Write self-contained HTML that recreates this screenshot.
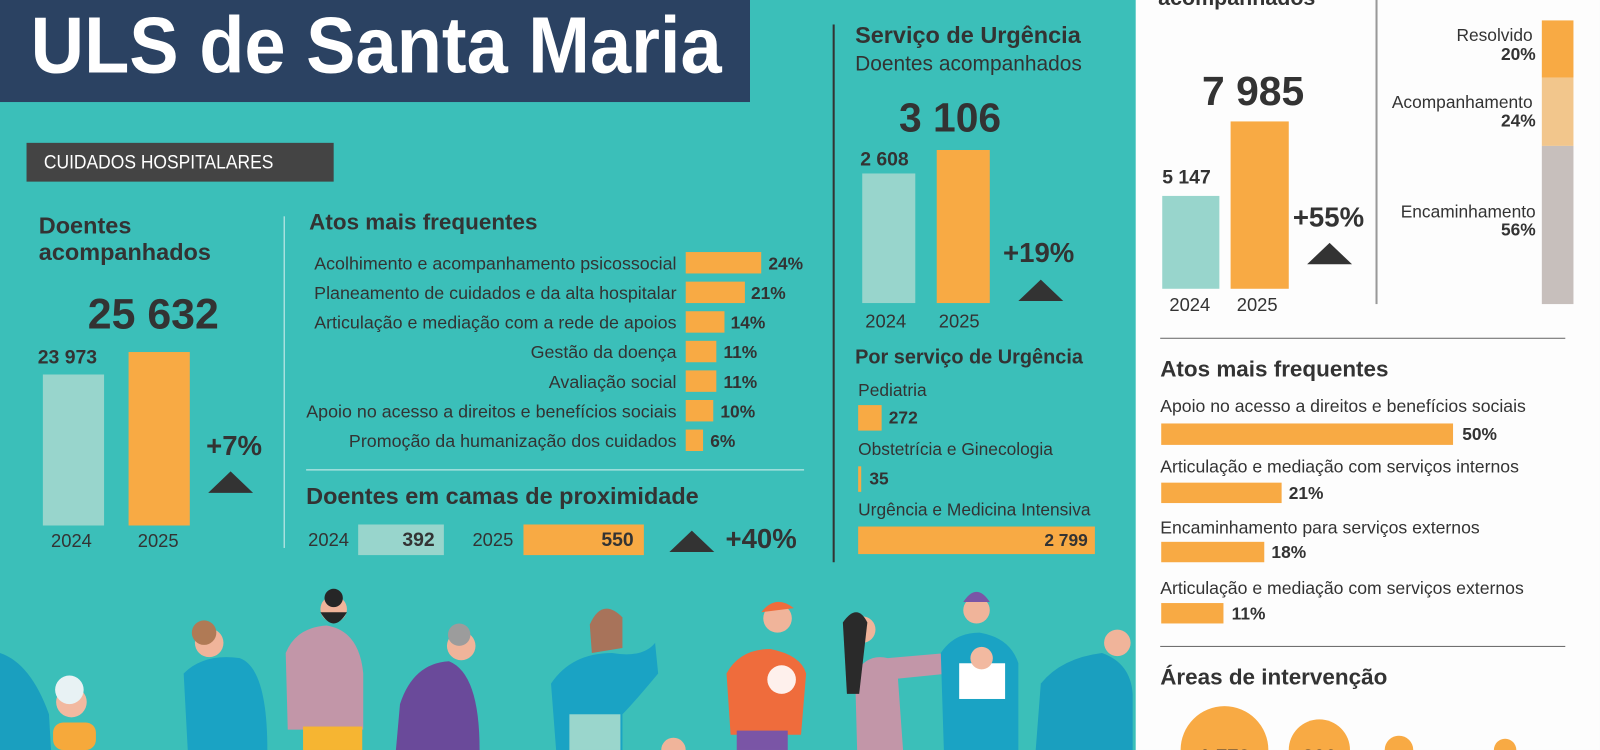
<!DOCTYPE html>
<html><head><meta charset="utf-8">
<style>
*{margin:0;padding:0;box-sizing:border-box}
html,body{width:1600px;height:750px;overflow:hidden;background:#3bbfb9}
#w{position:absolute;left:0;top:0;width:1568px;height:735px;overflow:hidden;transform:scale(1.0204);transform-origin:0 0;font-family:"Liberation Sans",sans-serif;color:#333}
.a{position:absolute;white-space:nowrap;line-height:1}
.b{font-weight:bold}
.r{text-align:right}
.or{background:#f8aa44}
.lt{background:#98d5cc}
.tri{position:absolute;width:0;height:0;border-left:22px solid transparent;border-right:22px solid transparent;border-bottom:21px solid #333}
</style></head><body><div id="w">
<div class="a" style="left:1113px;top:0;width:455px;height:735px;background:#fdfdfd"></div>

<svg class="a" style="left:0;top:560px" width="1113" height="175" viewBox="0 560 1113 175">
<path d="M0 640 Q30 650 48 700 L50 735 L0 735Z" fill="#1a9fbf"/>
<rect x="52" y="708" width="42" height="27" rx="10" fill="#f6a93b"/>
<circle cx="70" cy="688" r="15" fill="#f2b9a0"/><circle cx="68" cy="676" r="14" fill="#e8f2f4"/>
<path d="M180 660 Q200 640 235 645 Q262 655 262 735 L184 735Z" fill="#1aa3c4"/>
<circle cx="205" cy="630" r="14" fill="#f0b49a"/><circle cx="200" cy="620" r="12" fill="#b07a55"/>
<path d="M280 640 Q290 615 320 613 Q352 618 356 660 L356 715 L282 715Z" fill="#c296a8"/>
<rect x="297" y="712" width="58" height="23" fill="#f6b532"/>
<circle cx="327" cy="597" r="13" fill="#f0b49a"/><path d="M314 600 Q327 622 340 600Z" fill="#262626"/><circle cx="327" cy="586" r="9" fill="#262626"/>
<path d="M392 690 Q405 650 440 648 Q470 660 470 735 L388 735Z" fill="#6a4a9a"/>
<circle cx="452" cy="633" r="14" fill="#f0b49a"/><circle cx="450" cy="622" r="11" fill="#9c9c9c"/>
<path d="M540 670 Q560 640 600 640 Q630 645 642 630 L645 660 Q620 690 610 700 L610 735 L545 735Z" fill="#1aa3c4"/>
<rect x="558" y="700" width="50" height="35" fill="#9ad6cc"/>
<circle cx="595" cy="613" r="14" fill="#f0b49a"/><path d="M578 612 Q590 585 610 605 L610 635 L580 640Z" fill="#a8735a"/>
<path d="M648 735 A12 12 0 0 1 672 735Z" fill="#f0b49a"/>
<path d="M712 660 Q725 636 755 636 Q785 642 790 660 L785 720 L716 720Z" fill="#ef6c3c"/>
<rect x="722" y="716" width="50" height="19" fill="#7a55a6"/>
<circle cx="762" cy="606" r="14" fill="#f0b49a"/><path d="M746 600 Q760 582 778 596Z" fill="#ef6c3c"/>
<circle cx="766" cy="666" r="14" fill="#fff" opacity=".9"/>
<path d="M838 660 Q850 640 870 645 L928 640 L930 660 L880 665 L885 735 L840 735Z" fill="#c296a8"/>
<circle cx="845" cy="617" r="13" fill="#f0b49a"/><path d="M826 610 Q840 590 850 610 L842 680 L830 680Z" fill="#2a2a2a"/>
<path d="M922 640 Q935 620 960 620 Q990 625 998 650 L998 735 L925 735Z" fill="#1aa3c4"/>
<rect x="940" y="650" width="45" height="35" fill="#fff"/><circle cx="962" cy="645" r="11" fill="#f2b9a0"/>
<circle cx="957" cy="598" r="13" fill="#f0b49a"/><path d="M944 590 Q957 570 970 590Z" fill="#7a55a6"/>
<path d="M1020 670 Q1040 645 1080 640 Q1108 650 1110 680 L1110 735 L1015 735Z" fill="#1a9fbf"/>
<circle cx="1095" cy="630" r="13" fill="#f0b49a"/>
</svg>

<div class="a" style="left:0;top:0;width:735px;height:100px;background:#2b4262"></div>
<div class="a b" style="left:30px;top:5px;font-size:78px;color:#fff;transform:scaleX(0.93);transform-origin:0 0">ULS de Santa Maria</div>

<div class="a" style="left:26px;top:140px;width:301px;height:38px;background:#444"></div>
<div class="a" style="left:43px;top:150px;font-size:19px;color:#fff;transform:scaleX(.9);transform-origin:0 0">CUIDADOS HOSPITALARES</div>

<div class="a b" style="left:38px;top:208px;font-size:23px;line-height:26px">Doentes<br>acompanhados</div>
<div class="a b" style="left:86px;top:287px;font-size:42px">25 632</div>
<div class="a b" style="left:37px;top:341px;font-size:19px">23 973</div>
<div class="a lt" style="left:42px;top:367px;width:60px;height:148px"></div>
<div class="a or" style="left:126px;top:345px;width:60px;height:170px"></div>
<div class="a" style="left:50px;top:521px;font-size:18px">2024</div>
<div class="a" style="left:135px;top:521px;font-size:18px">2025</div>
<div class="a b" style="left:202px;top:424px;font-size:27px">+7%</div>
<div class="tri" style="left:204px;top:462px"></div>
<div class="a" style="left:278px;top:212px;width:1px;height:325px;background:#d8f0ee"></div>

<div class="a b" style="left:303px;top:207px;font-size:22px">Atos mais frequentes</div>
<div class="a r" style="left:150px;width:513px;top:250px;font-size:17.5px">Acolhimento e acompanhamento psicossocial</div>
<div class="a r" style="left:150px;width:513px;top:279px;font-size:17.5px">Planeamento de cuidados e da alta hospitalar</div>
<div class="a r" style="left:150px;width:513px;top:308px;font-size:17.5px">Articulação e mediação com a rede de apoios</div>
<div class="a r" style="left:150px;width:513px;top:337px;font-size:17.5px">Gestão da doença</div>
<div class="a r" style="left:150px;width:513px;top:366px;font-size:17.5px">Avaliação social</div>
<div class="a r" style="left:150px;width:513px;top:395px;font-size:17.5px">Apoio no acesso a direitos e benefícios sociais</div>
<div class="a r" style="left:150px;width:513px;top:424px;font-size:17.5px">Promoção da humanização dos cuidados</div>
<div class="a or" style="left:672px;top:247px;width:74px;height:21px"></div>
<div class="a or" style="left:672px;top:276px;width:58px;height:21px"></div>
<div class="a or" style="left:672px;top:305px;width:38px;height:21px"></div>
<div class="a or" style="left:672px;top:334px;width:30px;height:21px"></div>
<div class="a or" style="left:672px;top:363px;width:30px;height:21px"></div>
<div class="a or" style="left:672px;top:392px;width:27px;height:21px"></div>
<div class="a or" style="left:672px;top:421px;width:17px;height:21px"></div>
<div class="a b" style="left:753px;top:250px;font-size:17px">24%</div>
<div class="a b" style="left:736px;top:279px;font-size:17px">21%</div>
<div class="a b" style="left:716px;top:308px;font-size:17px">14%</div>
<div class="a b" style="left:709px;top:337px;font-size:17px">11%</div>
<div class="a b" style="left:709px;top:366px;font-size:17px">11%</div>
<div class="a b" style="left:706px;top:395px;font-size:17px">10%</div>
<div class="a b" style="left:696px;top:424px;font-size:17px">6%</div>
<div class="a" style="left:300px;top:460px;width:488px;height:1px;background:#d8f0ee"></div>
<div class="a b" style="left:300px;top:475px;font-size:23px">Doentes em camas de proximidade</div>
<div class="a" style="left:302px;top:520px;font-size:18px">2024</div>
<div class="a lt" style="left:351px;top:514px;width:84px;height:30px"></div>
<div class="a b r" style="left:351px;width:75px;top:520px;font-size:19px">392</div>
<div class="a" style="left:463px;top:520px;font-size:18px">2025</div>
<div class="a or" style="left:513px;top:514px;width:118px;height:30px"></div>
<div class="a b r" style="left:513px;width:108px;top:520px;font-size:19px">550</div>
<div class="tri" style="left:656px;top:520px"></div>
<div class="a b" style="left:711px;top:515px;font-size:27px">+40%</div>

<div class="a" style="left:816px;top:24px;width:1.5px;height:527px;background:#333"></div>
<div class="a b" style="left:838px;top:23px;font-size:23px">Serviço de Urgência</div>
<div class="a" style="left:838px;top:53px;font-size:20.5px">Doentes acompanhados</div>
<div class="a b" style="left:881px;top:96px;font-size:40px">3 106</div>
<div class="a b" style="left:843px;top:147px;font-size:19px">2 608</div>
<div class="a lt" style="left:845px;top:170px;width:52px;height:127px"></div>
<div class="a or" style="left:918px;top:147px;width:52px;height:150px"></div>
<div class="a" style="left:848px;top:306px;font-size:18px">2024</div>
<div class="a" style="left:920px;top:306px;font-size:18px">2025</div>
<div class="a b" style="left:983px;top:235px;font-size:27px">+19%</div>
<div class="tri" style="left:998px;top:274px"></div>
<div class="a b" style="left:838px;top:341px;font-size:19.5px">Por serviço de Urgência</div>
<div class="a" style="left:841px;top:374px;font-size:17px">Pediatria</div>
<div class="a or" style="left:841px;top:397px;width:23px;height:25px"></div>
<div class="a b" style="left:871px;top:401px;font-size:17px">272</div>
<div class="a" style="left:841px;top:432px;font-size:17px">Obstetrícia e Ginecologia</div>
<div class="a or" style="left:841px;top:457px;width:3px;height:25px"></div>
<div class="a b" style="left:852px;top:461px;font-size:17px">35</div>
<div class="a" style="left:841px;top:491px;font-size:17px">Urgência e Medicina Intensiva</div>
<div class="a or" style="left:841px;top:516px;width:232px;height:27px"></div>
<div class="a b r" style="left:841px;width:225px;top:521px;font-size:17px">2 799</div>

<div class="a b" style="left:1135px;top:-12px;font-size:21px">acompanhados</div>
<div class="a b" style="left:1178px;top:70px;font-size:40px">7 985</div>
<div class="a b" style="left:1139px;top:165px;font-size:19px">5 147</div>
<div class="a lt" style="left:1139px;top:192px;width:56px;height:91px"></div>
<div class="a or" style="left:1206px;top:119px;width:57px;height:164px"></div>
<div class="a" style="left:1146px;top:290px;font-size:18px">2024</div>
<div class="a" style="left:1212px;top:290px;font-size:18px">2025</div>
<div class="a b" style="left:1267px;top:200px;font-size:27px">+55%</div>
<div class="tri" style="left:1281px;top:238px"></div>
<div class="a" style="left:1348px;top:0;width:1.5px;height:298px;background:#999"></div>
<div class="a or" style="left:1511px;top:20px;width:31px;height:56px"></div>
<div class="a" style="left:1511px;top:76px;width:31px;height:67px;background:#f2c68c"></div>
<div class="a" style="left:1511px;top:143px;width:31px;height:155px;background:#c7bfbc"></div>
<div class="a r" style="left:1300px;width:202px;top:26px;font-size:17px">Resolvido</div>
<div class="a b r" style="left:1300px;width:205px;top:45px;font-size:17px">20%</div>
<div class="a r" style="left:1300px;width:202px;top:92px;font-size:17px">Acompanhamento</div>
<div class="a b r" style="left:1300px;width:205px;top:110px;font-size:17px">24%</div>
<div class="a r" style="left:1300px;width:205px;top:199px;font-size:17px">Encaminhamento</div>
<div class="a b r" style="left:1300px;width:205px;top:217px;font-size:17px">56%</div>
<div class="a" style="left:1137px;top:331px;width:397px;height:1px;background:#666"></div>
<div class="a b" style="left:1137px;top:351px;font-size:22px">Atos mais frequentes</div>
<div class="a" style="left:1137px;top:390px;font-size:17.3px">Apoio no acesso a direitos e benefícios sociais</div>
<div class="a or" style="left:1138px;top:415px;width:286px;height:21px"></div>
<div class="a b" style="left:1433px;top:417px;font-size:17px">50%</div>
<div class="a" style="left:1137px;top:449px;font-size:17.3px">Articulação e mediação com serviços internos</div>
<div class="a or" style="left:1138px;top:473px;width:118px;height:20px"></div>
<div class="a b" style="left:1263px;top:475px;font-size:17px">21%</div>
<div class="a" style="left:1137px;top:509px;font-size:17.3px">Encaminhamento para serviços externos</div>
<div class="a or" style="left:1138px;top:531px;width:101px;height:20px"></div>
<div class="a b" style="left:1246px;top:533px;font-size:17px">18%</div>
<div class="a" style="left:1137px;top:568px;font-size:17.3px">Articulação e mediação com serviços externos</div>
<div class="a or" style="left:1138px;top:591px;width:61px;height:20px"></div>
<div class="a b" style="left:1207px;top:593px;font-size:17px">11%</div>
<div class="a" style="left:1137px;top:633px;width:397px;height:1px;background:#666"></div>
<div class="a b" style="left:1137px;top:653px;font-size:22px">Áreas de intervenção</div>
<svg class="a" style="left:1113px;top:685px" width="455" height="50" viewBox="1113 685 455 50">
<circle cx="1200" cy="735" r="43" fill="#f8aa44"/>
<circle cx="1293" cy="735" r="30" fill="#f8aa44"/>
<circle cx="1371" cy="735" r="14" fill="#f8aa44"/>
<circle cx="1475" cy="735" r="11" fill="#f8aa44"/>
<text x="1200" y="748" text-anchor="middle" font-family="Liberation Sans" font-weight="bold" font-size="20" fill="#333">1 772</text>
<text x="1293" y="748" text-anchor="middle" font-family="Liberation Sans" font-weight="bold" font-size="20" fill="#333">806</text>
</svg>
</div></body></html>
